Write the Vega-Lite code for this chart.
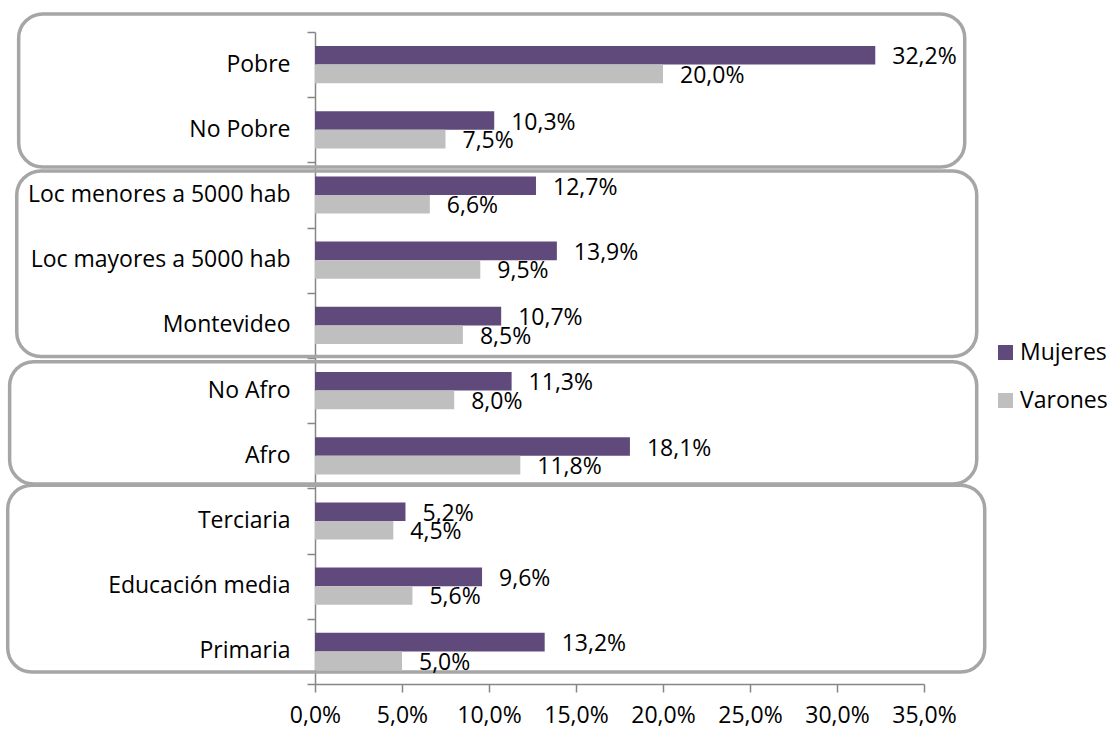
{
  "$schema": "https://vega.github.io/schema/vega-lite/v6.json",
  "width": 609,
  "height": 652,
  "autosize": {"type": "none"},
  "padding": {"left": 315, "top": 32, "right": 189, "bottom": 45},
  "background": "white",
  "config": {
    "locale": {"number": {"decimal": ",", "thousands": ".", "grouping": [3], "currency": ["", " €"]}},
    "view": {"stroke": null},
    "font": "Open Sans",
    "axis": {"labelFont": "Open Sans", "labelFontSize": 23, "labelColor": "#000000", "grid": false, "domainColor": "#868686", "tickColor": "#868686", "domainWidth": 1.5, "tickWidth": 1.5, "tickSize": 8, "labelLimit": 0, "labelOverlap": false, "labelFlush": false}
  },
  "datasets": {
    "cajas": [
      {"grupo": "Pobreza", "x0": -0.1703, "x1": 0.3734, "y0": -0.276, "y1": 2.07},
      {"grupo": "Localidad", "x0": -0.1714, "x1": 0.3803, "y0": 2.13, "y1": 4.977},
      {"grupo": "Ascendencia", "x0": -0.1755, "x1": 0.3803, "y0": 5.057, "y1": 6.933},
      {"grupo": "Educación", "x0": -0.1766, "x1": 0.3849, "y0": 6.95, "y1": 9.816}
    ],
    "datos": [
      {"cat": "Pobre", "sexo": "Mujeres", "valor": 0.322},
      {"cat": "Pobre", "sexo": "Varones", "valor": 0.200},
      {"cat": "No Pobre", "sexo": "Mujeres", "valor": 0.103},
      {"cat": "No Pobre", "sexo": "Varones", "valor": 0.075},
      {"cat": "Loc menores a 5000 hab", "sexo": "Mujeres", "valor": 0.127},
      {"cat": "Loc menores a 5000 hab", "sexo": "Varones", "valor": 0.066},
      {"cat": "Loc mayores a 5000 hab", "sexo": "Mujeres", "valor": 0.139},
      {"cat": "Loc mayores a 5000 hab", "sexo": "Varones", "valor": 0.095},
      {"cat": "Montevideo", "sexo": "Mujeres", "valor": 0.107},
      {"cat": "Montevideo", "sexo": "Varones", "valor": 0.085},
      {"cat": "No Afro", "sexo": "Mujeres", "valor": 0.113},
      {"cat": "No Afro", "sexo": "Varones", "valor": 0.080},
      {"cat": "Afro", "sexo": "Mujeres", "valor": 0.181},
      {"cat": "Afro", "sexo": "Varones", "valor": 0.118},
      {"cat": "Terciaria", "sexo": "Mujeres", "valor": 0.052},
      {"cat": "Terciaria", "sexo": "Varones", "valor": 0.045},
      {"cat": "Educación media", "sexo": "Mujeres", "valor": 0.096},
      {"cat": "Educación media", "sexo": "Varones", "valor": 0.056},
      {"cat": "Primaria", "sexo": "Mujeres", "valor": 0.132},
      {"cat": "Primaria", "sexo": "Varones", "valor": 0.050}
    ]
  },
  "layer": [
    {
      "data": {"name": "cajas"},
      "mark": {"type": "rect", "filled": false, "stroke": "#a6a6a6", "strokeWidth": 3.5, "cornerRadius": 24},
      "encoding": {
        "x": {"field": "x0", "type": "quantitative", "scale": {"domain": [0, 0.35], "nice": false, "zero": false},
              "axis": {"title": null, "values": [0, 0.05, 0.1, 0.15, 0.2, 0.25, 0.3, 0.35], "format": ".1%", "labelPadding": 12}},
        "x2": {"field": "x1"},
        "y": {"field": "y0", "type": "quantitative", "scale": {"domain": [0, 10], "reverse": true, "nice": false, "zero": false},
              "axis": {"orient": "left", "title": null, "values": [0, 1, 2, 3, 4, 5, 6, 7, 8, 9, 10], "labels": false, "ticks": true, "domain": true}},
        "y2": {"field": "y1"}
      }
    },
    {
      "data": {"name": "datos"},
      "layer": [
        {
          "mark": {"type": "bar"},
          "encoding": {
            "y": {"field": "cat", "type": "nominal",
                  "sort": ["Pobre", "No Pobre", "Loc menores a 5000 hab", "Loc mayores a 5000 hab", "Montevideo", "No Afro", "Afro", "Terciaria", "Educación media", "Primaria"],
                  "scale": {"paddingInner": 0.43, "paddingOuter": 0.215},
                  "axis": {"orient": "left", "title": null, "ticks": false, "domain": false, "labelPadding": 25}},
            "yOffset": {"field": "sexo", "type": "nominal", "sort": ["Mujeres", "Varones"], "scale": {"paddingInner": 0, "paddingOuter": 0}},
            "x": {"field": "valor", "type": "quantitative", "scale": {"domain": [0, 0.35], "nice": false, "zero": false},
                  "axis": {"title": null, "values": [0, 0.05, 0.1, 0.15, 0.2, 0.25, 0.3, 0.35], "format": ".1%", "labelPadding": 12}},
            "color": {"field": "sexo", "type": "nominal",
                      "scale": {"domain": ["Mujeres", "Varones"], "range": ["#604a7b", "#bfbfbf"]},
                      "legend": {"title": null, "orient": "none", "legendX": 679, "legendY": 309, "symbolType": "square", "symbolSize": 225, "symbolStrokeWidth": 0, "symbolOpacity": 1, "labelFont": "Open Sans", "labelFontSize": 23, "labelColor": "#000000", "rowPadding": 24, "labelOffset": 3, "labelLimit": 0}}
          }
        },
        {
          "mark": {"type": "text", "align": "left", "baseline": "middle", "dx": 17, "dy": 2, "fontSize": 23, "font": "Open Sans", "color": "#000000"},
          "encoding": {
            "y": {"field": "cat", "type": "nominal",
                  "sort": ["Pobre", "No Pobre", "Loc menores a 5000 hab", "Loc mayores a 5000 hab", "Montevideo", "No Afro", "Afro", "Terciaria", "Educación media", "Primaria"],
                  "scale": {"paddingInner": 0.43, "paddingOuter": 0.215},
                  "axis": {"orient": "left", "title": null, "ticks": false, "domain": false, "labelPadding": 25}},
            "yOffset": {"field": "sexo", "type": "nominal", "sort": ["Mujeres", "Varones"], "scale": {"paddingInner": 0, "paddingOuter": 0}},
            "x": {"field": "valor", "type": "quantitative", "scale": {"domain": [0, 0.35], "nice": false, "zero": false},
                  "axis": {"title": null, "values": [0, 0.05, 0.1, 0.15, 0.2, 0.25, 0.3, 0.35], "format": ".1%", "labelPadding": 12}},
            "text": {"field": "valor", "type": "quantitative", "format": ".1%"}
          }
        }
      ]
    }
  ],
  "resolve": {"scale": {"y": "independent"}, "axis": {"y": "independent"}}
}
